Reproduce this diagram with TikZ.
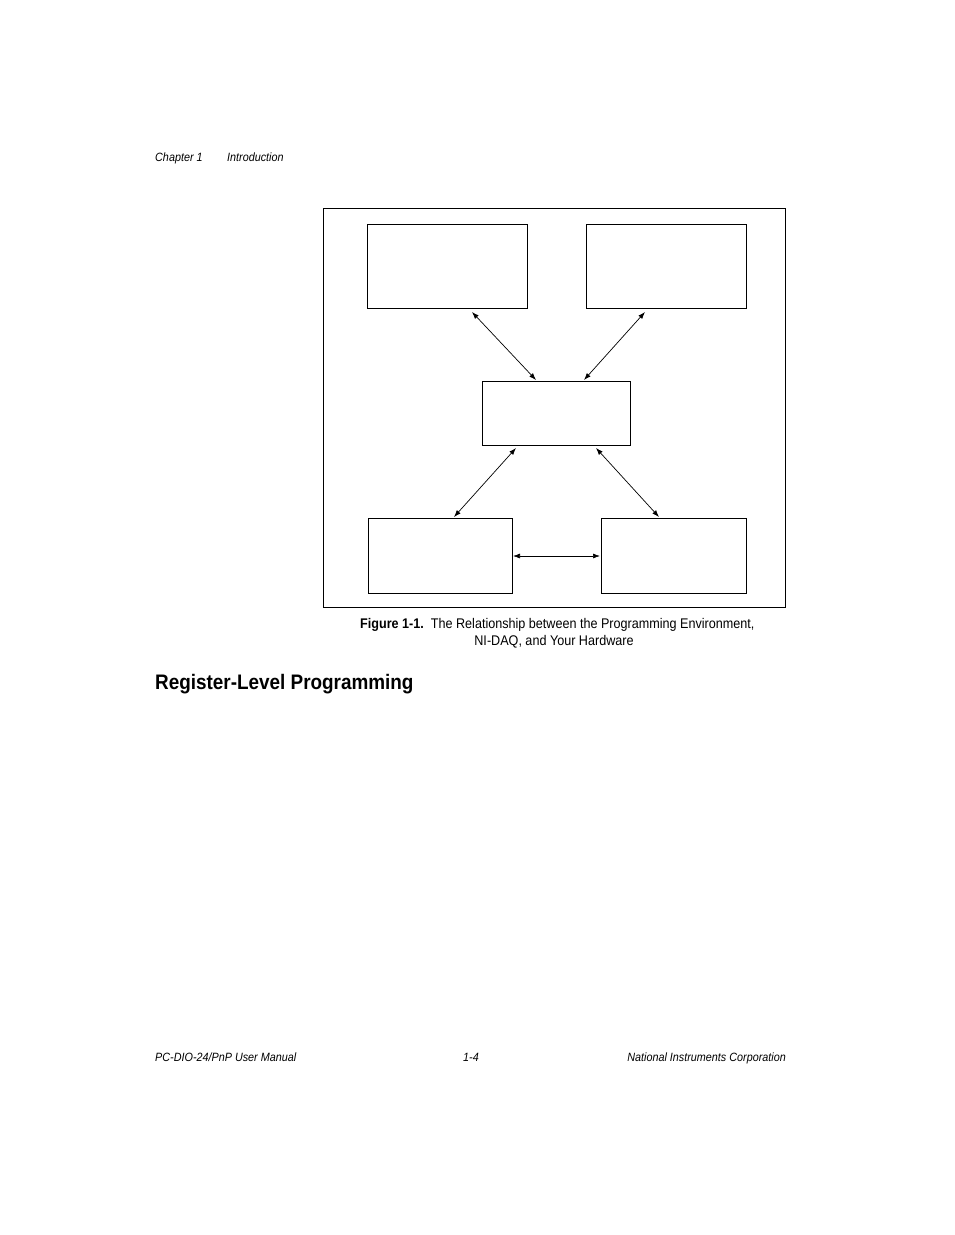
\documentclass[tikz,border=0pt]{standalone}
\usepackage{fontspec}
\setmainfont{Liberation Sans}[FakeStretch=0.9]
\usetikzlibrary{positioning,arrows.meta}
\tikzset{>={Latex[length=7pt,width=5pt]}}

\begin{document}
\begin{tikzpicture}[x=1pt,y=-1pt,
                    box/.style={draw, line width=0.8pt},
                    link/.style={<->, line width=0.7pt},
                    txt/.style={anchor=base west, inner sep=0pt, font=\fontsize{12}{14}\selectfont},
                   ]

\useasboundingbox (0,0) rectangle (954,1235);

\node[txt] (chap) at (155,161) {\itshape Chapter 1};
\node[txt] (intro) at (227,161) {\itshape Introduction};

\draw[line width=0.8pt] (323,208) rectangle (785,607);

\draw[box] (367,224) rectangle (527,308);
\draw[box] (586,224) rectangle (746,308);
\draw[box] (482,381) rectangle (630,445);
\draw[box] (368,518) rectangle (512,593);
\draw[box] (601,518) rectangle (746,593);

\coordinate (tl) at (472,312);
\coordinate (tr) at (645,312);
\coordinate (ct) at (536,380);
\coordinate (cr) at (584,380);
\coordinate (cbl) at (516,448);
\coordinate (cbr) at (596,448);
\coordinate (bl) at (454,517);
\coordinate (br) at (659,517);
\coordinate (bll) at (513,556);
\coordinate (brr) at (600,556);

\draw[link] (tl) -- (ct);
\draw[link] (tr) -- (cr);
\draw[link] (cbl) -- (bl);
\draw[link] (cbr) -- (br);
\draw[link] (bll) -- (brr);

\node[txt, font=\fontsize{14}{16}\selectfont] (cap) at (360,628) {\textbf{Figure 1-1.}\hspace{7pt}The Relationship between the Programming Environment,};
\node[txt, anchor=base, font=\fontsize{14}{16}\selectfont] (cap2) at (554,645) {NI-DAQ, and Your Hardware};

\node[txt, font=\fontsize{21}{24}\selectfont\bfseries] (head) at (155,689) {Register-Level Programming};

\node[txt] (foot1) at (155,1061) {\itshape PC-DIO-24/PnP User Manual};
\node[txt] (foot2) at (463,1061) {\itshape 1-4};
\node[txt, anchor=base east] (foot3) at (786,1061) {\itshape National Instruments Corporation};

\end{tikzpicture}
\end{document}
